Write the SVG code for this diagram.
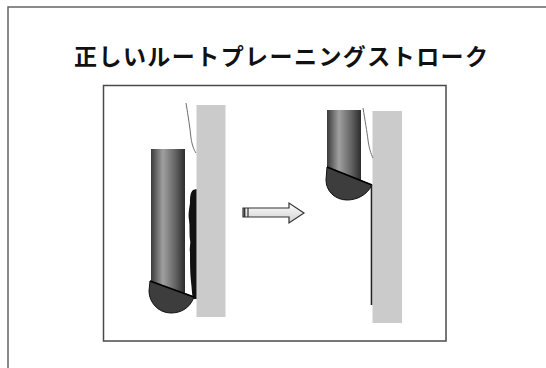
<svg xmlns="http://www.w3.org/2000/svg" width="546" height="368" viewBox="0 0 546 368">
  <defs>
    <linearGradient id="shank" x1="0" y1="0" x2="1" y2="0">
      <stop offset="0" stop-color="#3a3a3a"/>
      <stop offset="0.35" stop-color="#a0a0a0"/>
      <stop offset="0.7" stop-color="#666"/>
      <stop offset="1" stop-color="#2c2c2c"/>
    </linearGradient>
    <linearGradient id="arrowFill" x1="0" y1="0" x2="0" y2="1">
      <stop offset="0" stop-color="#ffffff"/>
      <stop offset="1" stop-color="#cfcfcf"/>
    </linearGradient>
  </defs>
  <style>
    .frame { fill: none; stroke: #666; stroke-width: 1.5; }
    .inner { fill: #fff; stroke: #4a4a4a; stroke-width: 1.5; }
    .tooth { fill: #cbcbcb; }
    .shank { fill: url(#shank); }
    .blade { fill: #3d3d3d; stroke: #111; stroke-width: 1; }
    .face { stroke: #000; stroke-width: 1.8; fill: none; }
    .gum { fill: none; stroke: #6e6e6e; stroke-width: 1; }
    .calculus { fill: #111; }
    .title { font-family: "Noto Sans CJK JP", "Noto Sans CJK SC", sans-serif; font-weight: bold; font-size: 23px; fill: #111; }
  </style>

  <rect width="546" height="368" fill="#fff"/>
  <!-- outer page border (runs off the right and bottom edges) -->
  <rect class="frame" x="8" y="7" width="560" height="380"/>

  <g id="title">
    <text class="title" x="74" y="65" textLength="414" lengthAdjust="spacing">正しいルートプレーニングストローク</text>
  </g>

  <g id="panel">
    <rect class="inner" x="103.5" y="85.5" width="342.5" height="255.5"/>
  </g>

  <!-- before: curette under the calculus -->
  <g id="before">
    <rect class="tooth" x="196.5" y="105" width="29" height="212"/>
    <path class="gum" d="M186,103 C188,115 190,128 191,138 C192,145 194,150 196,153"/>
    <path class="calculus" d="M193,190 C190,193 190,198 190,203 C189,210 188,215 189,220 C190,226 189,232 190,240 C191,244 189,248 190,252 C190,262 190,272 191,282 C192,290 192,295 193,299 L196.5,299 L196.5,189 Z"/>
    <path class="shank" d="M151,149 H185 V294 L151,281.5 Z"/>
    <path class="blade" d="M150,281 L194,297 C190,308 181,313 171,313 C158,313 149,302 149,291 Z"/>
    <path class="face" d="M150,281 L194,297"/>
  </g>

  <g id="connectors">
    <path d="M243,208 H289 V203 L304,213 L289,223 V217 H243 Z" fill="url(#arrowFill)" stroke="#333" stroke-width="1.2" stroke-linejoin="miter"/>
    <line x1="244.5" y1="208" x2="244.5" y2="217" stroke="#333" stroke-width="1.8"/>
    <line x1="248" y1="208" x2="248" y2="217" stroke="#333" stroke-width="1.2"/>
  </g>

  <!-- after: smooth root surface -->
  <g id="after">
    <rect class="tooth" x="372.5" y="111" width="29.5" height="212"/>
    <path class="gum" d="M363,108 C365,120 367,132 368,140 C369,148 371,154 373,158"/>
    <path class="shank" d="M327,110 H361 V181 L327,167 Z"/>
    <path class="blade" d="M327,167 L372,185 C367,195 357,200 347,200 C335,200 326,191 326,180 Z"/>
    <path class="face" d="M327,167 L372,185"/>
    <line x1="371.5" y1="185" x2="371.5" y2="305" stroke="#222" stroke-width="1.6"/>
  </g>
</svg>
